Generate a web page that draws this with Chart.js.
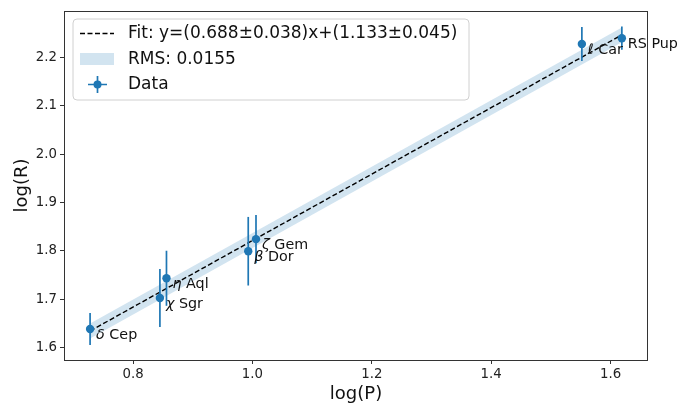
<!DOCTYPE html>
<html>
<head>
<meta charset="utf-8">
<script src="https://cdn.jsdelivr.net/npm/chart.js@4.4.1/dist/chart.umd.min.js"></script>
<style>
html,body{margin:0;padding:0;background:#fff;}
#wrap{width:680px;height:405px;position:relative;}
</style>
</head>
<body>
<div id="wrap"><canvas id="c"></canvas></div>
<script>
// ---- data ----
const names = ["δ Cep", "χ Sgr", "η Aql", "β Dor", "ζ Gem", "ℓ Car", "RS Pup"];
const logP  = [0.728, 0.845, 0.856, 0.993, 1.006, 1.552, 1.619];
const logR  = [1.638, 1.702, 1.743, 1.799, 1.824, 2.228, 2.240];
const errR  = [0.033, 0.060, 0.057, 0.071, 0.050, 0.035, 0.024];
const fitSlope = [0.688, 0.038];     // value, uncertainty
const fitIntercept = [1.133, 0.045]; // value, uncertainty
const rms = 0.0155;
const xTicks = [0.8, 1.0, 1.2, 1.4, 1.6];
const yTicks = [1.6, 1.7, 1.8, 1.9, 2.0, 2.1, 2.2];
const xRange = [0.6843, 1.6628];
const yRange = [1.5738, 2.2963];

const BLUE = '#1f77b4';
const FONT = "'DejaVu Sans', sans-serif";

const xMin = Math.min(...logP), xMax = Math.max(...logP);
const fitX = [xMin, xMax];
const fitLine = fitX.map(x => ({x, y: fitSlope[0]*x + fitIntercept[0]}));
const bandUp = fitLine.map(p => ({x: p.x, y: p.y + rms}));
const bandLo = fitLine.map(p => ({x: p.x, y: p.y - rms}));
const points = logP.map((x, i) => ({x, y: logR[i]}));

const fitLabel = `Fit: y=(${fitSlope[0].toFixed(3)}±${fitSlope[1].toFixed(3)})x+(${fitIntercept[0].toFixed(3)}±${fitIntercept[1].toFixed(3)})`;
const rmsLabel = `RMS: ${rms}`;

const extras = {
  id: 'extras',
  beforeDatasetDraw(chart, args) {
    if (args.index !== 0) return;
    const ctx = chart.ctx, xs = chart.scales.x, ys = chart.scales.y;
    ctx.save();
    ctx.strokeStyle = BLUE;
    ctx.lineWidth = 1.7;
    logP.forEach((x, i) => {
      const px = xs.getPixelForValue(x);
      ctx.beginPath();
      ctx.moveTo(px, ys.getPixelForValue(logR[i] + errR[i]));
      ctx.lineTo(px, ys.getPixelForValue(logR[i] - errR[i]));
      ctx.stroke();
    });
    ctx.restore();
  },
  afterDraw(chart) {
    const ctx = chart.ctx, a = chart.chartArea, xs = chart.scales.x, ys = chart.scales.y;
    ctx.save();
    // frame
    ctx.strokeStyle = '#333';
    ctx.lineWidth = 1;
    ctx.strokeRect(Math.round(a.left) + 0.5, Math.round(a.top) + 0.5,
                   Math.round(a.right - a.left) - 1, Math.round(a.bottom - a.top));
    // annotations (greek symbol in math italic)
    ctx.fillStyle = '#111';
    ctx.textAlign = 'left';
    ctx.textBaseline = 'middle';
    names.forEach((n, i) => {
      let px = xs.getPixelForValue(logP[i]) + 6;
      const py = ys.getPixelForValue(logR[i]) + 6;
      const first = n[0];
      if (/[\u0370-\u03ff\u2113]/.test(first)) {
        ctx.font = `italic 14.3px ${FONT}`;
        ctx.fillText(first, px, py);
        px += ctx.measureText(first).width;
        ctx.font = `14.3px ${FONT}`;
        ctx.fillText(n.slice(1), px, py);
      } else {
        ctx.font = `14.3px ${FONT}`;
        ctx.fillText(n, px, py);
      }
    });
    // axis titles
    ctx.font = `18px ${FONT}`;
    ctx.textAlign = 'center';
    ctx.textBaseline = 'middle';
    ctx.fillText('log(P)', (a.left + a.right) / 2, 394);
    ctx.save();
    ctx.translate(22, (a.top + a.bottom) / 2);
    ctx.rotate(-Math.PI / 2);
    ctx.fillText('log(R)', 0, 0);
    ctx.restore();
    // legend
    const L = 73, T = 19, W = 396, H = 81, r = 4;
    ctx.beginPath();
    ctx.moveTo(L + r, T);
    ctx.arcTo(L + W, T, L + W, T + H, r);
    ctx.arcTo(L + W, T + H, L, T + H, r);
    ctx.arcTo(L, T + H, L, T, r);
    ctx.arcTo(L, T, L + W, T, r);
    ctx.closePath();
    ctx.fillStyle = 'rgba(255,255,255,0.8)';
    ctx.fill();
    ctx.strokeStyle = '#d0d0d0';
    ctx.lineWidth = 1;
    ctx.stroke();
    // handle 1: dashed line
    ctx.strokeStyle = '#000';
    ctx.lineWidth = 1.4;
    ctx.setLineDash([5, 2.5]);
    ctx.beginPath();
    ctx.moveTo(80, 33.5);
    ctx.lineTo(114, 33.5);
    ctx.stroke();
    ctx.setLineDash([]);
    // handle 2: band rect
    ctx.fillStyle = 'rgba(31,119,180,0.2)';
    ctx.fillRect(80, 53, 34, 12);
    // handle 3: errorbar marker
    ctx.strokeStyle = BLUE;
    ctx.lineWidth = 1.7;
    ctx.beginPath();
    ctx.moveTo(88, 84.5); ctx.lineTo(107, 84.5);
    ctx.moveTo(97.5, 76); ctx.lineTo(97.5, 93);
    ctx.stroke();
    ctx.fillStyle = BLUE;
    ctx.beginPath();
    ctx.arc(97.5, 84.5, 4, 0, Math.PI * 2);
    ctx.fill();
    // legend text
    ctx.fillStyle = '#111';
    ctx.font = `17px ${FONT}`;
    ctx.textAlign = 'left';
    ctx.textBaseline = 'middle';
    ctx.fillText(fitLabel, 128, 34);
    ctx.fillText(rmsLabel, 128, 59.5);
    ctx.fillText('Data', 128, 84.5);
    ctx.restore();
  }
};

const tickFont = {family: FONT, size: 13.3};
new Chart(document.getElementById('c'), {
  type: 'scatter',
  data: {
    datasets: [
      {label: 'Data', data: points, pointRadius: 4.2, pointHoverRadius: 4.2,
       pointBackgroundColor: BLUE, pointBorderWidth: 0, showLine: false},
      {label: 'Fit', data: fitLine, showLine: true, borderColor: '#000', borderWidth: 1.4,
       borderDash: [5, 2.5], pointRadius: 0, fill: false},
      {label: 'up', data: bandUp, showLine: true, borderWidth: 0, borderColor: 'rgba(0,0,0,0)',
       pointRadius: 0, fill: false},
      {label: 'lo', data: bandLo, showLine: true, borderWidth: 0, borderColor: 'rgba(0,0,0,0)',
       pointRadius: 0, fill: 2, backgroundColor: 'rgba(31,119,180,0.2)'}
    ]
  },
  options: {
    responsive: true,
    maintainAspectRatio: false,
    animation: false,
    events: [],
    layout: {padding: {left: 0, right: 32, top: 11, bottom: 0}},
    plugins: {legend: {display: false}, tooltip: {enabled: false}, title: {display: false}},
    scales: {
      x: {
        type: 'linear', min: xRange[0], max: xRange[1],
        afterBuildTicks: s => { s.ticks = xTicks.map(v => ({value: v})); },
        afterFit: s => { s.height = 45; },
        ticks: {font: tickFont, color: '#222', padding: 3, maxRotation: 0,
                callback: v => v.toFixed(1)},
        grid: {display: true, drawOnChartArea: false, drawTicks: true, tickLength: 4,
               color: '#333', tickWidth: 1},
        border: {display: false}
      },
      y: {
        type: 'linear', min: yRange[0], max: yRange[1],
        afterBuildTicks: s => { s.ticks = yTicks.map(v => ({value: v})); },
        afterFit: s => { s.width = 64; },
        ticks: {font: tickFont, color: '#222', padding: 3,
                callback: v => v.toFixed(1)},
        grid: {display: true, drawOnChartArea: false, drawTicks: true, tickLength: 4,
               color: '#333', tickWidth: 1},
        border: {display: false}
      }
    }
  },
  plugins: [extras]
});
</script>
</body>
</html>
